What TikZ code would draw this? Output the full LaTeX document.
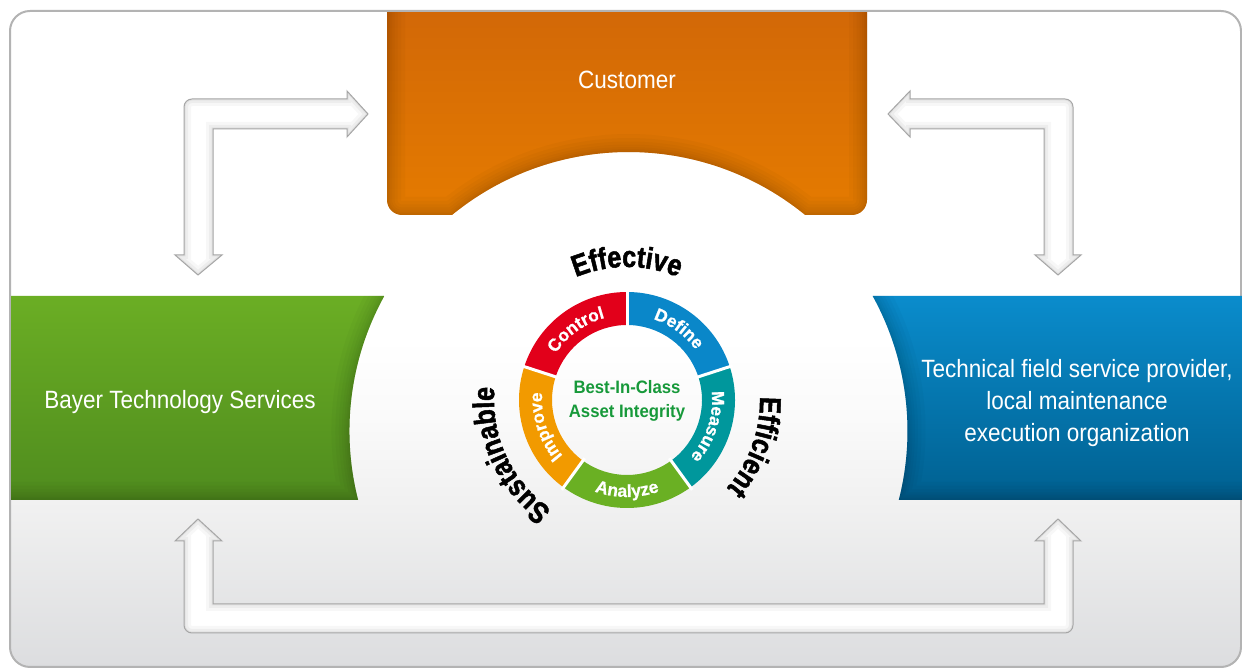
\documentclass[tikz,border=0pt]{standalone}
\usepackage{fontspec}
\setmainfont{Liberation Sans}
\newfontfamily\condfont{Liberation Sans}[FakeStretch=0.9]
\newfontfamily\bicfont{Liberation Sans}[FakeStretch=0.93]
\newfontfamily\heavyfont{Liberation Sans}[FakeStretch=0.84,BoldFeatures={FakeBold=1.6}]
\newfontfamily\ringfont{Liberation Sans}[BoldFeatures={FakeBold=0.8}]
\usetikzlibrary{decorations.text}
\definecolor{cOrangeTop}{HTML}{D26807}
\definecolor{cOrangeBot}{HTML}{E57B00}
\definecolor{cGreenTop}{HTML}{6BAE24}
\definecolor{cGreenBot}{HTML}{4F8C1E}
\definecolor{cBlueTop}{HTML}{0A8CCC}
\definecolor{cBlueBot}{HTML}{006090}
\definecolor{cRed}{HTML}{E2001A}
\definecolor{cDefine}{HTML}{0A87C9}
\definecolor{cTeal}{HTML}{00979C}
\definecolor{cAnalyze}{HTML}{6AB023}
\definecolor{cImprove}{HTML}{F29A00}
\definecolor{cBIC}{HTML}{17993A}
\definecolor{cFrame}{HTML}{B3B3B3}
\definecolor{cBgBot}{HTML}{DCDDDF}
\definecolor{cBgMid}{HTML}{F1F1F1}
\definecolor{cBgHi}{HTML}{FAFAFA}
\definecolor{cArrowLine}{HTML}{A6A6A6}

\pgfdeclareverticalshading{bgshade}{100bp}{color(0bp)=(cBgBot); color(25bp)=(cBgBot); color(37.7bp)=(cBgMid); color(44bp)=(cBgHi); color(50bp)=(white); color(100bp)=(white)}

\def\orangepath{(387,657) -- (387,468) arc[start angle=180,end angle=270,radius=15] -- (452,453) arc[start angle=129.26,end angle=50.74,radius=279] -- (852,453) arc[start angle=270,end angle=360,radius=15] -- (867,657) -- cycle}
\def\orangeedge{(387,680) -- (387,468) arc[start angle=180,end angle=270,radius=15] -- (452,453) arc[start angle=129.26,end angle=50.74,radius=279] -- (852,453) arc[start angle=270,end angle=360,radius=15] -- (867,680)}
\def\greenpath{(11,168) -- (11,372) -- (384.3,372) arc[start angle=151.06,end angle=194.32,radius=279] -- cycle}
\def\greenedge{(384.3,372) arc[start angle=151.06,end angle=194.32,radius=279] -- (0,168)}
\def\bluepath{(1242,168) -- (898.8,168) arc[start angle=-14.32,end angle=28.94,radius=279] -- (1242,372) -- cycle}
\def\blueedge{(1250,168) -- (898.8,168) arc[start angle=-14.32,end angle=28.94,radius=279]}
\def\arrowTL{(198,393) -- (222,413) -- (213,413) -- (213,539) -- (347,539) -- (347,531) -- (368,554) -- (347,577) -- (347,569) -- (192,569) arc[start angle=90,end angle=180,radius=8] -- (184,413) -- (175,413) -- cycle}
\def\arrowTR{(1058,393) -- (1081,413) -- (1073,413) -- (1073,561) arc[start angle=0,end angle=90,radius=8] -- (910,569) -- (910,577) -- (888,554) -- (910,531) -- (910,539) -- (1044,539) -- (1044,413) -- (1035,413) -- cycle}
\def\arrowB{(198,149) -- (222,127) -- (213,127) -- (213,64) -- (1044,64) -- (1044,127) -- (1035,127) -- (1058,149) -- (1081,127) -- (1073,127) -- (1073,43) arc[start angle=0,end angle=-90,radius=8] -- (192,35) arc[start angle=270,end angle=180,radius=8] -- (184,127) -- (175,127) -- cycle}

\newcommand\blockarrow[1]{%
  \fill[white] #1;
  \begin{scope}
    \clip #1;
    \draw[line width=14, black, opacity=0.03] #1;
    \draw[line width=8, black, opacity=0.04] #1;
    \draw[line width=3, black, opacity=0.05] #1;
  \end{scope}
  \draw[cArrowLine, line width=1] #1;}
\newcommand\innershade[2]{%
  \begin{scope}
    \clip #1;
    \foreach \w in {36,28,21,15,10,6,3}
      \draw[line width=\w, black, opacity=0.025] #2;
  \end{scope}}
\newcommand\ringseg[3]{%
  \fill[#1] ([shift={(#2:108)}]rc) arc[start angle=#2,end angle=#3,radius=108]
    -- ([shift={(#3:75)}]rc) arc[start angle=#3,end angle=#2,radius=75] -- cycle;}
\newcommand\ringcw[3]{%
  \path[decorate, decoration={text along path, text align=center,
    text={|\ringfont\bfseries\fontsize{17.5}{17.5}\selectfont\color{white}|#1}}]
    ([shift={(#2+40:#3)}]rc) arc[start angle=#2+40,end angle=#2-40,radius=#3];}
\newcommand\ringccw[3]{%
  \path[decorate, decoration={text along path, text align=center,
    text={|\ringfont\bfseries\fontsize{17.5}{17.5}\selectfont\color{white}|#1}}]
    ([shift={(#2-40:#3)}]rc) arc[start angle=#2-40,end angle=#2+40,radius=#3];}
\newcommand\bigword[2]{%
  \path[decorate, decoration={text along path, text align=center,
    text={|\heavyfont\bfseries\fontsize{30}{30}\selectfont\color{black}|#1}}]
    ([shift={(#2+70:133)}]rc) arc[start angle=#2+70,end angle=#2-70,radius=133];}

\begin{document}
\begin{tikzpicture}[x=1pt,y=1pt,
  boxtext/.style={text=white, font=\condfont\fontsize{25}{32}\selectfont, inner sep=0pt}]
\useasboundingbox (0,0) rectangle (1242,668);

% background and frame
\shade[shading=bgshade, rounded corners=20] (10,1) rectangle (1241,657);
\draw[cFrame, line width=2, rounded corners=20] (10,1) rectangle (1241,657);

% boxes
\shade[top color=cGreenTop, bottom color=cGreenBot] \greenpath;
\innershade{\greenpath}{\greenedge}
\shade[top color=cBlueTop, bottom color=cBlueBot] \bluepath;
\innershade{\bluepath}{\blueedge}
\shade[top color=cOrangeTop, bottom color=cOrangeBot] \orangepath;
\innershade{\orangepath}{\orangeedge}
\draw[cFrame, line width=2] (30,657) -- (1221,657);

\node[boxtext, anchor=base] (customer) at (627,579) {Customer};
\node[boxtext, anchor=base] (bayer) at (180,259) {Bayer Technology Services};
\node[boxtext, align=center] (provider) at (1077,265) {Technical field service provider,\\local maintenance\\execution organization};

% arrows
\blockarrow{\arrowTL}
\blockarrow{\arrowTR}
\blockarrow{\arrowB}

% ring
\coordinate (rc) at (627,268);
\ringseg{cDefine}{18}{90}
\ringseg{cTeal}{-54}{18}
\ringseg{cAnalyze}{-126}{-54}
\ringseg{cImprove}{162}{234}
\ringseg{cRed}{90}{162}
\foreach \a in {18,90,162,234,306}
  \draw[white, line width=3] ([shift={(\a:72)}]rc) -- ([shift={(\a:111)}]rc);

\ringcw{Control}{126}{85}
\ringcw{Define}{54}{85}
\ringcw{Measure}{-18}{85}
\ringcw{Improve}{198}{85}
\ringccw{Analyze}{270}{97}

\node[align=center, text=cBIC, font=\bicfont\bfseries\fontsize{18}{24}\selectfont] (bic) at (627,267) {Best-In-Class\\Asset Integrity};

\bigword{Effective}{90}
\bigword{Efficient}{-20}
\bigword{Sustainable}{205}
\end{tikzpicture}
\end{document}
